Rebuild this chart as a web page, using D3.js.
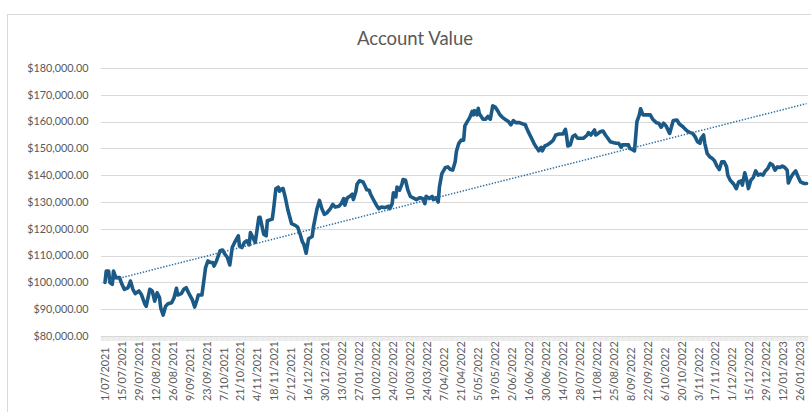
<!DOCTYPE html>
<html>
<head>
<meta charset="utf-8">
<script src="https://cdn.jsdelivr.net/npm/d3@7"></script>
<style>
    body { margin: 0; background: #ffffff; }
</style>
</head>
<body>
<div id="chart"></div>
<script>
// Category axis labels, one every 14 days
var xTickLabels = [
    "1/07/2021", "15/07/2021", "29/07/2021", "12/08/2021", "26/08/2021", "9/09/2021",
    "23/09/2021", "7/10/2021", "21/10/2021", "4/11/2021", "18/11/2021", "2/12/2021",
    "16/12/2021", "30/12/2021", "13/01/2022", "27/01/2022", "10/02/2022", "24/02/2022",
    "10/03/2022", "24/03/2022", "7/04/2022", "21/04/2022", "5/05/2022", "19/05/2022",
    "2/06/2022", "16/06/2022", "30/06/2022", "14/07/2022", "28/07/2022", "11/08/2022",
    "25/08/2022", "8/09/2022", "22/09/2022", "6/10/2022", "20/10/2022", "3/11/2022",
    "17/11/2022", "1/12/2022", "15/12/2022", "29/12/2022", "12/01/2023", "26/01/2023"
];

var yTicks = [80000, 90000, 100000, 110000, 120000, 130000, 140000, 150000, 160000, 170000, 180000];

// Days since 1/07/2021
var dayOffset = [
    0, 1, 3, 4, 6, 7, 9, 12, 14, 16, 19, 21, 23, 25, 28, 30, 33, 34, 37, 39,
    41, 43, 45, 46, 48, 50, 52, 55, 57, 59, 60, 63, 65, 67, 69, 72, 74, 76, 77, 80,
    83, 85, 87, 89, 90, 92, 95, 97, 99, 101, 103, 105, 107, 110, 111, 113, 115, 117, 119, 120,
    122, 124, 127, 128, 131, 133, 134, 138, 139, 141, 143, 144, 146, 147, 149, 151, 154, 157, 159, 161,
    163, 164, 166, 168, 171, 172, 175, 177, 179, 181, 183, 186, 188, 190, 193, 195, 197, 198, 200, 202,
    204, 205, 207, 208, 210, 213, 215, 216, 218, 219, 221, 224, 226, 228, 231, 234, 235, 237, 238, 240,
    241, 243, 245, 246, 248, 250, 252, 254, 257, 260, 262, 264, 265, 268, 270, 271, 273, 275, 276, 278,
    281, 283, 285, 287, 289, 290, 292, 294, 296, 297, 299, 301, 303, 304, 305, 307, 308, 309, 312, 314,
    316, 318, 320, 322, 324, 326, 328, 330, 333, 335, 337, 339, 342, 345, 347, 348, 350, 352, 354, 356,
    358, 360, 361, 363, 365, 367, 370, 372, 375, 378, 380, 381, 382, 384, 386, 388, 390, 393, 395, 398,
    399, 401, 402, 404, 405, 407, 409, 411, 413, 415, 417, 420, 422, 424, 426, 427, 429, 432, 433, 435,
    437, 439, 441, 442, 444, 447, 450, 452, 455, 457, 459, 461, 463, 466, 468, 469, 472, 474, 477, 479,
    481, 483, 485, 487, 489, 491, 492, 494, 495, 497, 499, 501, 503, 505, 507, 509, 511, 513, 514, 516,
    519, 521, 523, 525, 526, 528, 530, 531, 533, 535, 537, 539, 541, 543, 545, 547, 549, 551, 553, 555,
    557, 559, 561, 563, 564, 566, 568, 570, 572, 574, 577, 579
];

var accountValue = [
    100000, 104200, 104200, 100000, 99300, 104200, 101800, 101800, 99300, 97400,
    98000, 100500, 97400, 95800, 96800, 95500, 91800, 91100, 97400, 96800,
    93000, 96100, 94300, 90500, 87800, 91100, 92000, 92400, 94300, 97800,
    95300, 95800, 97400, 98000, 96100, 93600, 90800, 93600, 95300, 95300,
    105500, 108000, 107400, 107400, 106100, 108000, 111800, 112100, 110500, 109300,
    106500, 113000, 114900, 117400, 113600, 113000, 114900, 115500, 114000, 118600,
    116800, 114900, 124300, 124300, 118000, 117400, 123000, 123600, 126800, 134900,
    135500, 134000, 134900, 135000, 131300, 126900, 121900, 121300, 120600, 118100,
    115000, 114400, 110900, 116300, 117100, 120600, 127500, 130600, 127500, 125400,
    125900, 127500, 129100, 128100, 128400, 129400, 131300, 128800, 131600, 132100,
    132900, 130900, 133800, 136600, 137900, 137500, 135600, 134600, 134400, 133100,
    131300, 128800, 127500, 128100, 127900, 128400, 127500, 129400, 133400, 131900,
    135600, 134400, 136600, 138400, 138100, 134400, 132100, 131600, 130900, 131600,
    131300, 129400, 132100, 131300, 132100, 130900, 131600, 130000, 135600, 140600,
    142900, 143100, 142100, 141900, 145000, 148800, 151900, 153100, 153100, 158400,
    160000, 161500, 163800, 162500, 164100, 162500, 165000, 162900, 160900, 160900,
    161900, 160900, 165900, 165400, 164100, 162500, 161600, 160900, 160000, 158800,
    160400, 159600, 159600, 159100, 158800, 157500, 155600, 153800, 151900, 150400,
    149100, 150400, 149100, 150900, 151300, 151900, 153100, 155000, 155400, 155400,
    157100, 154400, 150900, 151300, 154400, 155000, 153800, 153800, 153800, 155000,
    155900, 155000, 155600, 156900, 155000, 155600, 156300, 156500, 155000, 153800,
    152500, 152100, 151900, 151900, 150400, 151300, 151300, 151300, 150000, 149600,
    149100, 160000, 162500, 164800, 162500, 162500, 162500, 160900, 159600, 159400,
    157900, 159400, 158400, 155600, 158800, 160400, 160600, 159100, 158100, 157100,
    156300, 155900, 155600, 154400, 152500, 151900, 153800, 155000, 151900, 148100,
    146900, 146300, 145400, 143400, 142100, 145000, 145000, 143100, 140000, 138100,
    136600, 135000, 137500, 137900, 136300, 140900, 137500, 135000, 138100, 139100,
    141600, 140000, 140400, 140000, 141600, 142500, 144400, 143800, 141900, 143100,
    142900, 143400, 142900, 141900, 137100, 139100, 140600, 141600, 139400, 137500,
    136900, 136900
];

// Linear trendline as drawn in the chart (value at first and last day)
var trendDays = [0, 579];
var trendValues = [100200, 166700];

// Layout
var width = 811;
var height = 412;
var plotLeft = 101;
var plotRight = 808;
var plotTop = 68;
var plotBottom = 336;

var lineColour = "#1b5a87";
var trendColour = "#2f6f9f";
var gridColour = "#d9d9d9";
var textColour = "#595959";
var fontFamily = "Lato, 'Open Sans', sans-serif";

var parseDate = d3.timeParse("%d/%m/%Y");
var tickDates = xTickLabels.map(parseDate);
var startDate = tickDates[0];
var endDate = tickDates[tickDates.length - 1];

var data = dayOffset.map(function(d, i) {
    return { date: d3.timeDay.offset(startDate, d), value: accountValue[i] };
});
var trend = trendDays.map(function(d, i) {
    return { date: d3.timeDay.offset(startDate, d), value: trendValues[i] };
});

var svg = d3
    .select("#chart")
    .append("svg")
    .attr("width", width)
    .attr("height", height)
    .style("background", "#ffffff");

// Chart frame
svg.append("rect")
    .attr("x", 7.5)
    .attr("y", 14.5)
    .attr("width", width + 10)
    .attr("height", height + 10)
    .attr("fill", "none")
    .attr("stroke", gridColour);

var x = d3.scaleTime().domain([startDate, endDate]).range([105, 800.5]);
var y = d3.scaleLinear().domain([80000, 180000]).range([plotBottom, plotTop]);

// Title
svg.append("text")
    .attr("x", 415)
    .attr("y", 45)
    .attr("text-anchor", "middle")
    .style("font-family", fontFamily)
    .style("font-size", "18.5px")
    .style("fill", textColour)
    .text("Account Value");

// Gridlines
svg.append("g")
    .selectAll("line")
    .data(yTicks.slice(1))
    .enter()
    .append("line")
    .attr("x1", plotLeft)
    .attr("x2", plotRight)
    .attr("y1", function(d) { return Math.round(y(d)) + 0.5; })
    .attr("y2", function(d) { return Math.round(y(d)) + 0.5; })
    .attr("stroke", gridColour)
    .attr("stroke-width", 1);

// Y axis labels
var yFormat = d3.format("$,.2f");
svg.append("g")
    .selectAll("text")
    .data(yTicks)
    .enter()
    .append("text")
    .attr("x", 88.5)
    .attr("y", function(d) { return y(d); })
    .attr("dy", "0.35em")
    .attr("text-anchor", "end")
    .style("font-family", fontFamily)
    .style("font-size", "10.8px")
    .style("fill", textColour)
    .text(function(d) { return yFormat(d); });

// X axis line with a tick for every day
svg.append("line")
    .attr("x1", plotLeft)
    .attr("x2", plotRight)
    .attr("y1", plotBottom + 0.5)
    .attr("y2", plotBottom + 0.5)
    .attr("stroke", gridColour);

var allDays = d3.timeDay.range(d3.timeDay.offset(startDate, -3), d3.timeDay.offset(endDate, 7));
svg.append("g")
    .selectAll("line")
    .data(allDays)
    .enter()
    .append("line")
    .attr("x1", function(d) { return x(d); })
    .attr("x2", function(d) { return x(d); })
    .attr("y1", plotBottom)
    .attr("y2", plotBottom + 5)
    .attr("stroke", gridColour)
    .attr("stroke-width", 0.6);

// X axis labels (rotated)
svg.append("g")
    .selectAll("text")
    .data(xTickLabels)
    .enter()
    .append("text")
    .attr("transform", function(d, i) {
        return "translate(" + x(tickDates[i]) + ",401) rotate(-90)";
    })
    .attr("dy", "0.35em")
    .attr("text-anchor", "start")
    .style("font-family", fontFamily)
    .style("font-size", "10.8px")
    .style("fill", textColour)
    .text(function(d) { return d; });

var line = d3.line()
    .x(function(d) { return x(d.date); })
    .y(function(d) { return y(d.value); });

// Series line
svg.append("path")
    .datum(data)
    .attr("d", line)
    .attr("fill", "none")
    .attr("stroke", lineColour)
    .attr("stroke-width", 3.6)
    .attr("stroke-linejoin", "round")
    .attr("stroke-linecap", "round");

// Dotted trendline
svg.append("path")
    .datum(trend)
    .attr("d", line)
    .attr("fill", "none")
    .attr("stroke", trendColour)
    .attr("stroke-width", 1.5)
    .attr("stroke-dasharray", "1.4,1.6");
</script>
</body>
</html>
